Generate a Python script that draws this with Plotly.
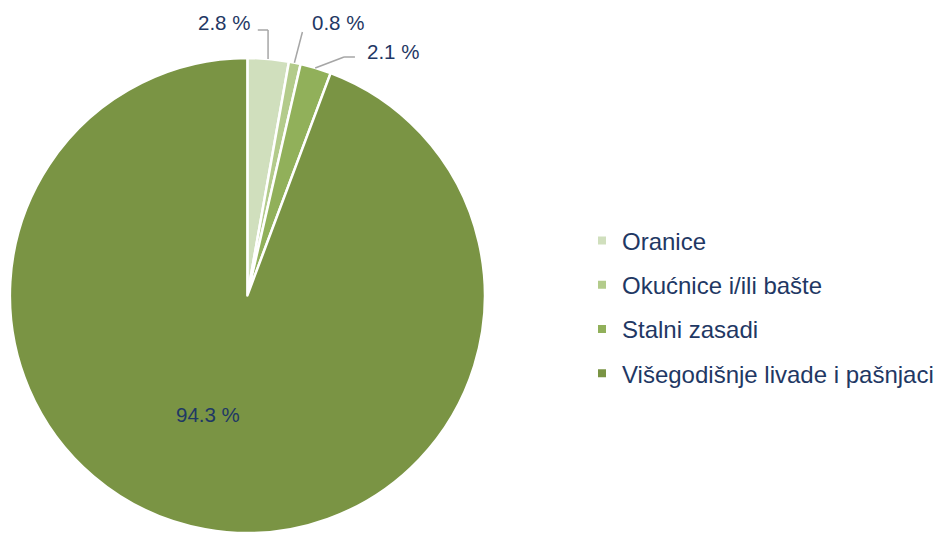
import math
import plotly.graph_objects as go

# ---- data ----
categories = ["Oranice", "Okućnice i/ili bašte", "Stalni zasadi", "Višegodišnje livade i pašnjaci"]
values = [2.8, 0.8, 2.1, 94.3]
colors = ["#d0dfbd", "#b3cb8b", "#91b05a", "#7a9444"]

# ---- layout constants (pixels) ----
W, H = 939, 533
CX, CY, R = 249.5, 295.5, 237.5
TEXT = "#1f3864"
FONT = "Liberation Sans, Arial, sans-serif"

# label placements (pixel centers) and leader-line elbows (None = straight)
label_pos = [(226, 23), (341, 23), (396, 52), (210, 414)]
leader_start = [(260, 30), (305, 32), (358, 57), None]
leader_elbow = ["vertical", None, (347, 57), None]


def px(x):
    return x / W


def py(y):
    return 1 - y / H


fig = go.Figure()
fig.add_trace(go.Pie(
    labels=categories,
    values=values,
    sort=False,
    direction="clockwise",
    rotation=0,
    marker=dict(colors=colors, line=dict(color="white", width=2.5)),
    textinfo="none",
    hoverinfo="label+percent",
    showlegend=False,
    domain=dict(x=[8 / W, 491 / W], y=[0, (H - 58) / H]),
))

# legend entries as marker-only traces
for i, (c, col) in enumerate(zip(categories, colors)):
    fig.add_trace(go.Scatter(
        x=[None], y=[None], mode="markers", name=c,
        marker=dict(symbol="square", size=8, color=col),
        legendgroup=f"g{i}", showlegend=True,
    ))

total = sum(values)
cum = 0
annotations = []
shapes = []
for i, v in enumerate(values):
    mid = (cum + v / 2) / total * 2 * math.pi
    cum += v
    ex = CX + R * math.sin(mid)
    ey = CY - R * math.cos(mid)
    lx, ly = label_pos[i]
    annotations.append(dict(
        x=px(lx), y=py(ly), xref="paper", yref="paper",
        text=f"{v:.1f} %", showarrow=False,
        font=dict(size=20.5, color=TEXT, family=FONT),
        xanchor="center", yanchor="middle",
    ))
    if leader_start[i] is not None:
        sx, sy = leader_start[i]
        el = leader_elbow[i]
        if el == "vertical":
            pts = [(sx, sy), (ex, sy), (ex, ey)]
        elif el is None:
            pts = [(sx, sy), (ex, ey)]
        else:
            pts = [(sx, sy), el, (ex, ey)]
        for (x0, y0), (x1, y1) in zip(pts[:-1], pts[1:]):
            shapes.append(dict(
                type="line", xref="paper", yref="paper",
                x0=px(x0), y0=py(y0), x1=px(x1), y1=py(y1),
                line=dict(color="#a6a6a6", width=1.5),
            ))

fig.update_layout(
    width=W, height=H,
    margin=dict(l=0, r=0, t=0, b=0),
    paper_bgcolor="white", plot_bgcolor="white",
    xaxis=dict(visible=False), yaxis=dict(visible=False),
    showlegend=True,
    legend=dict(
        x=0.6252, y=py(307), xanchor="left", yanchor="middle",
        font=dict(size=24, color=TEXT, family=FONT),
        tracegroupgap=10, traceorder="grouped",
        bgcolor="rgba(0,0,0,0)",
    ),
    annotations=annotations,
    shapes=shapes,
)

fig.write_html("out.html", config={"displayModeBar": False},
               post_script="document.body.style.margin='0';")
